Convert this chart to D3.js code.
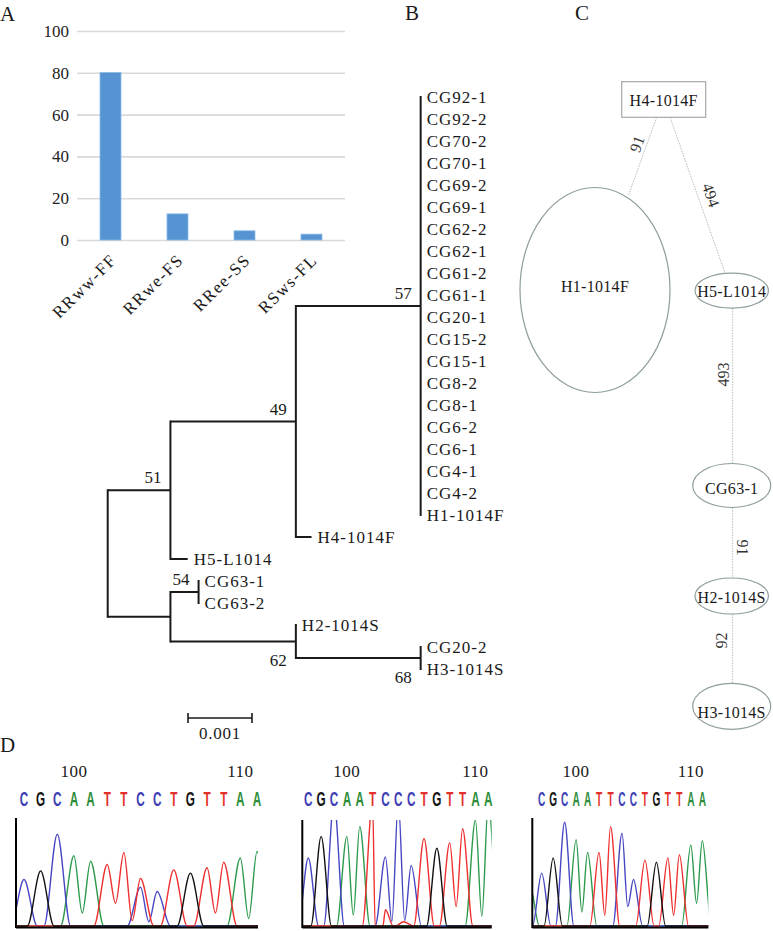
<!DOCTYPE html>
<html><head><meta charset="utf-8">
<script src="https://cdn.jsdelivr.net/npm/d3@7"></script>
<style>body{margin:0;background:#fff} svg{display:block}</style>
</head><body>
<svg id="fig" width="773" height="931"></svg>
<script>
// ================= DATA =================
// Panel A: genotype frequencies (%)
const genotypes = ["RRww-FF", "RRwe-FS", "RRee-SS", "RSws-FL"];
const genotypePct = [80.1, 12.5, 4.4, 2.8];
const pctTicks = [0, 20, 40, 60, 80, 100];

// Panel B: neighbour-joining tree
const clade57Leaves = ["CG92-1","CG92-2","CG70-2","CG70-1","CG69-2","CG69-1","CG62-2","CG62-1",
  "CG61-2","CG61-1","CG20-1","CG15-2","CG15-1","CG8-2","CG8-1","CG6-2","CG6-1","CG4-1","CG4-2","H1-1014F"];
// [node, parent, branch length, bootstrap]
const treeEdges = [
  ["root", null, 0, null],
  ["n51", "root", 0.00098, 51],
  ["n49", "n51", 0.00196, 49],
  ["n57", "n49", 0.00195, 57],
  ...clade57Leaves.map(n => [n, "n57", 0, null]),
  ["H4-1014F", "n49", 0.000245, null],
  ["H5-L1014", "n51", 0.00027, null],
  ["nLow", "root", 0.00098, null],
  ["n54", "nLow", 0.00044, 54],
  ["CG63-1", "n54", 0, null],
  ["CG63-2", "n54", 0, null],
  ["n62", "nLow", 0.00196, 62],
  ["H2-1014S", "n62", 0, null],
  ["n68", "n62", 0.00195, 68],
  ["CG20-2", "n68", 0, null],
  ["H3-1014S", "n68", 0, null]
];
const scaleBarValue = 0.001;

// Panel C: haplotype network
const haplotypes = ["H4-1014F", "H1-1014F", "H5-L1014", "CG63-1", "H2-1014S", "H3-1014S"];
const haplotypeLinks = [
  ["H4-1014F", "H1-1014F", "91"],
  ["H4-1014F", "H5-L1014", "494"],
  ["H5-L1014", "CG63-1", "493"],
  ["CG63-1", "H2-1014S", "91"],
  ["H2-1014S", "H3-1014S", "92"]
];

// Panel D: sequencing chromatograms  [base index, channel, peak height]
const chromaSeqs = ["CGCAATTCCTGTTAA", "CGCAATCCCTGTTAA", "CGCAATTCCTGTTAA"];
const posTickLabels = ["100", "110"];
const posTickIndex = [3, 13];
const peaks1 = [[0,"C",43],[1,"G",51],[2,"C",85],[3,"A",65],[4,"A",60],[5,"T",57],[6,"T",68],
  [7,"T",44],[7,"C",36],[8,"C",32],[9,"T",52],[10,"G",49],[11,"T",54],[12,"T",59],[13,"A",63],[14,"A",69]];
const troughs1 = [[3.5,"A",12],[5.5,"T",21],[6.5,"T",5],[7.5,"C",4],[11.5,"T",12],[13.5,"A",7]];
const peaks2 = [[0,"C",63],[1,"G",83],[2,"C",115],[3,"A",83],[4,"A",92],[5,"T",115],[6,"C",64],[6,"T",15],
  [7,"C",115],[7.4,"T",4],[8,"C",56],[9,"T",81],[10,"G",72],[11,"T",77],[12,"T",90],[13,"A",98],[14,"A",115]];
const troughs2 = [[3.5,"A",10],[6.5,"C",4],[7.5,"C",5],[11.5,"T",18],[13.5,"A",9]];
const peaks3 = [[-1,"A",36],[0,"C",49],[1,"G",63],[2,"C",96],[3,"A",80],[4,"A",68],[5,"T",68],[6,"T",92],
  [7,"C",86],[8,"C",43],[9,"T",61],[10,"G",59],[11,"T",63],[12,"T",66],[13,"A",75],[14,"A",79]];
const troughs3 = [[3.5,"A",13],[5.5,"T",10],[7.5,"C",18],[11.5,"T",10],[13.5,"A",21]];
const chromaPeaks = [peaks1, peaks2, peaks3];
const chromaTroughs = [troughs1, troughs2, troughs3];

// ================= DRAWING =================
const svg = d3.select("#fig");
const serif = "Liberation Serif";
const ink = "#1a1a1a";

// panel letters
[["A",0,21],["B",405,20],["C",575,20],["D",0,752]].forEach(([t,x,y]) =>
  svg.append("text").attr("x",x).attr("y",y).text(t)
    .attr("font-family",serif).attr("font-size",21).attr("fill",ink));

// ---------- Panel A ----------
const gA = svg.append("g");
const yA = d3.scaleLinear().domain([0,100]).range([240,31]);
const xA = d3.scaleBand().domain(genotypes).range([77,345]).paddingInner(0.687).paddingOuter(0.3435);
gA.append("g").attr("transform","translate(77,0)")
  .call(d3.axisLeft(yA).tickValues(pctTicks).tickSize(-268).tickPadding(8).tickFormat(d3.format("d")))
  .call(g => {
    g.select(".domain").remove();
    g.attr("font-family", serif);
    g.selectAll(".tick line").attr("stroke","#d9d9d9").attr("stroke-width",1.6);
    g.selectAll(".tick text").attr("font-family",serif).attr("font-size",17).attr("fill","#222");
  });
gA.selectAll("rect.bar").data(genotypes).join("rect").attr("class","bar")
  .attr("x", d => xA(d)).attr("width", xA.bandwidth())
  .attr("y", (d,i) => yA(genotypePct[i])).attr("height", (d,i) => yA(0) - yA(genotypePct[i]))
  .attr("fill","#5593d3").attr("stroke","#8bb8e6").attr("stroke-width",0.8);
gA.selectAll("text.xl").data(genotypes).join("text").attr("class","xl")
  .attr("transform", d => `translate(${xA(d)+xA.bandwidth()/2+7},261) rotate(-45)`)
  .attr("text-anchor","end").attr("font-family",serif).attr("font-size",17)
  .attr("letter-spacing",1.5).attr("fill",ink).text(d => d);

// ---------- Panel B ----------
const gB = svg.append("g");
const troot = d3.stratify().id(d => d[0]).parentId(d => d[1])(treeEdges);
const xT = d3.scaleLinear().domain([0, 0.001]).range([107.7, 171.7]);
const leafTop = 97, leafStep = 22;
troot.eachBefore(n => { n.dist = n.parent ? n.parent.dist + n.data[2] : 0; n.px = xT(n.dist); });
troot.leaves().forEach((n,i) => { n.py = leafTop + i*leafStep; });
troot.eachAfter(n => { if (n.children) n.py = (n.children[0].py + n.children[n.children.length-1].py)/2; });
const nodes = troot.descendants();
gB.selectAll("line.h").data(nodes.filter(n => n.parent && n.px > n.parent.px + 0.1)).join("line")
  .attr("x1", n => n.parent.px).attr("x2", n => n.px).attr("y1", n => n.py).attr("y2", n => n.py)
  .attr("stroke",ink).attr("stroke-width",2);
gB.selectAll("line.v").data(nodes.filter(n => n.children)).join("line")
  .attr("x1", n => n.px).attr("x2", n => n.px)
  .attr("y1", n => n.children[0].py).attr("y2", n => n.children[n.children.length-1].py)
  .attr("stroke",ink).attr("stroke-width",2).attr("stroke-linecap","square");
gB.selectAll("text.leaf").data(troot.leaves()).join("text")
  .attr("x", n => n.px + 6).attr("y", n => n.py).attr("dy","0.35em")
  .attr("font-family",serif).attr("font-size",17).attr("letter-spacing",1).attr("fill",ink)
  .text(n => n.id);
const bootBelow = new Set(["n62","n68"]);
gB.selectAll("text.boot").data(nodes.filter(n => n.data[3] != null)).join("text")
  .attr("x", n => n.px - 9).attr("y", n => bootBelow.has(n.id) ? n.py + 24.5 : n.py - 7)
  .attr("text-anchor","end").attr("font-family",serif).attr("font-size",17).attr("fill",ink)
  .text(n => n.data[3]);
// scale bar
const sbX = 188, sbY = 718, sbW = xT(scaleBarValue) - xT(0);
gB.append("path").attr("d", `M${sbX},${sbY-5}V${sbY+5}M${sbX},${sbY}H${sbX+sbW}M${sbX+sbW},${sbY-5}V${sbY+5}`)
  .attr("stroke",ink).attr("stroke-width",1.6).attr("fill","none");
gB.append("text").attr("x", sbX + sbW/2).attr("y", 739).attr("text-anchor","middle")
  .attr("font-family",serif).attr("font-size",17).attr("letter-spacing",0.8).attr("fill",ink)
  .text(d3.format(".3f")(scaleBarValue));

// ---------- Panel C ----------
const gC = svg.append("g");
const netLayout = {
  "H4-1014F": {rect:[621.7,81.7,84,35.6], tx:663.7, ty:100},
  "H1-1014F": {cx:595, cy:290, rx:75, ry:102.5, tx:595, ty:286},
  "H5-L1014": {cx:731.7, cy:290.7, rx:36.7, ry:17.5, tx:731.7, ty:291},
  "CG63-1":   {cx:731.7, cy:485.5, rx:39, ry:22, tx:731.7, ty:488},
  "H2-1014S": {cx:731.7, cy:596, rx:36.7, ry:18, tx:731.7, ty:597.5},
  "H3-1014S": {cx:731.7, cy:706.3, rx:39, ry:23, tx:731.7, ty:712.5}
};
const linkLayout = [
  {p:[656.7,117.3,628.3,195.7], l:[637,144,-70.5]},
  {p:[670,117.3,725,273], l:[711,195,70.6]},
  {p:[732.7,308.2,732.7,463.5], l:[723,374.5,-90]},
  {p:[732.7,507.5,732.7,578], l:[742.5,547.5,90]},
  {p:[732.7,614,732.7,683.3], l:[721.5,640.5,-90]}
];
haplotypeLinks.forEach((lk,i) => {
  const L = linkLayout[i];
  gC.append("line").attr("x1",L.p[0]).attr("y1",L.p[1]).attr("x2",L.p[2]).attr("y2",L.p[3])
    .attr("stroke","#b5bcbc").attr("stroke-width",1).attr("stroke-dasharray","1.5,1.2");
  gC.append("text").attr("transform",`translate(${L.l[0]},${L.l[1]}) rotate(${L.l[2]})`)
    .attr("text-anchor","middle").attr("dy","0.35em").attr("font-family",serif)
    .attr("font-size",16).attr("fill","#333").text(lk[2]);
});
haplotypes.forEach(h => {
  const n = netLayout[h];
  if (n.rect) {
    gC.append("rect").attr("x",n.rect[0]).attr("y",n.rect[1]).attr("width",n.rect[2]).attr("height",n.rect[3])
      .attr("fill","#fff").attr("stroke","#a8a8a8").attr("stroke-width",1.2);
  } else {
    gC.append("ellipse").attr("cx",n.cx).attr("cy",n.cy).attr("rx",n.rx).attr("ry",n.ry)
      .attr("fill","#fff").attr("stroke","#8e9e9c").attr("stroke-width",1.2);
  }
  gC.append("text").attr("x",n.tx).attr("y",n.ty).attr("dy","0.35em").attr("text-anchor","middle")
    .attr("font-family",serif).attr("font-size",16).attr("letter-spacing",0.3).attr("fill",ink).text(h);
});

// ---------- Panel D ----------
const chanColor = {C:"#4646c2", G:"#111111", A:"#2c9a4c", T:"#ee3030"};
const letterColor = {C:"#3e3eb4", G:"#151515", A:"#2e8c3a", T:"#e3302a"};
const chromaLayout = [
  {first:24, last:257, x0:16, x1:258, top:818, sx:0.56},
  {first:308.3, last:488.3, x0:302.3, x1:491.7, top:820, sx:0.56},
  {first:541.7, last:702.3, x0:532.3, x1:708.3, top:818, sx:0.48}
];
const footHalf = 0.8;
function channelPoints(peaks, troughs, ch) {
  const pk = peaks.filter(p => p[1] === ch).sort((a,b) => a[0]-b[0]);
  const tr = troughs.filter(t => t[1] === ch);
  const pts = [[-3,0]];
  pk.forEach((p,i) => {
    const prev = pk[i-1], next = pk[i+1];
    const tp = prev && tr.find(t => t[0] > prev[0] && t[0] < p[0]);
    pts.push(tp ? [tp[0], tp[2]] : [p[0]-footHalf, 0]);
    pts.push([p[0], p[2]]);
    const tn = next && tr.find(t => t[0] > p[0] && t[0] < next[0]);
    if (!tn) pts.push([p[0]+footHalf, 0]);
  });
  pts.push([17,0]);
  pts.sort((a,b) => a[0]-b[0]);
  return pts.filter((p,i) => i === 0 || p[0] > pts[i-1][0] + 1e-6);
}
const defs = svg.append("defs");
chromaSeqs.forEach((seq, k) => {
  const Lk = chromaLayout[k];
  const g = svg.append("g");
  const xP = d3.scaleLinear().domain([0,14]).range([Lk.first, Lk.last]);
  const yP = d3.scaleLinear().domain([0,100]).range([926, 818]);
  // position numbers
  posTickLabels.forEach((t,i) => g.append("text").attr("x", xP(posTickIndex[i])).attr("y",777)
    .attr("text-anchor","middle").attr("font-family",serif).attr("font-size",17)
    .attr("letter-spacing",0.5).attr("fill",ink).text(t));
  // base letters
  seq.split("").forEach((b,i) => g.append("text")
    .attr("transform", `translate(${xP(i)},806) scale(${Lk.sx},1)`)
    .attr("text-anchor","middle").attr("font-family","Liberation Sans")
    .attr("font-size",21).attr("font-weight","bold").attr("fill",letterColor[b]).text(b));
  // traces
  const cid = "clipD" + k;
  defs.append("clipPath").attr("id",cid).append("rect")
    .attr("x",Lk.x0).attr("y",Lk.top).attr("width",Lk.x1-Lk.x0).attr("height",930-Lk.top);
  const tg = g.append("g").attr("clip-path",`url(#${cid})`);
  const line = d3.line().x(p => xP(p[0])).y(p => yP(p[1])).curve(d3.curveMonotoneX);
  ["A","C","T","G"].forEach(ch => {
    tg.append("path").attr("d", line(channelPoints(chromaPeaks[k], chromaTroughs[k], ch)))
      .attr("fill","none").attr("stroke",chanColor[ch]).attr("stroke-width",1.4);
  });
  // axes
  g.append("line").attr("x1",Lk.x0).attr("x2",Lk.x0).attr("y1",Lk.top).attr("y2",928)
    .attr("stroke","#000").attr("stroke-width",2);
  g.append("line").attr("x1",Lk.x0).attr("x2",Lk.x1).attr("y1",927.5).attr("y2",927.5)
    .attr("stroke","#000").attr("stroke-width",2);
});
</script>
</body></html>
